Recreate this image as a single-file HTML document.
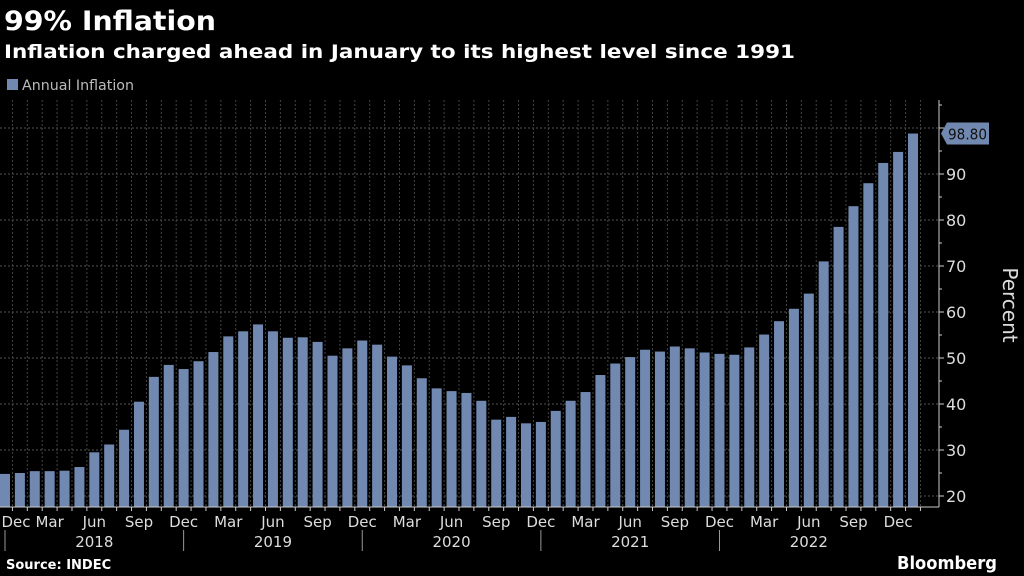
<!DOCTYPE html>
<html><head><meta charset="utf-8"><style>
html,body{margin:0;padding:0;background:#000;}
svg{display:block;font-family:"DejaVu Sans","Liberation Sans",sans-serif;}
</style></head><body>
<svg id="chart" width="1024" height="576" viewBox="0 0 1024 576">
<rect width="1024" height="576" fill="#000"/>
<text x="4" y="30" fill="#fff" font-weight="bold" font-size="27" textLength="212" lengthAdjust="spacingAndGlyphs">99% Inflation</text>
<text x="4" y="58" fill="#fff" font-weight="bold" font-size="19" textLength="791" lengthAdjust="spacingAndGlyphs">Inflation charged ahead in January to its highest level since 1991</text>
<rect x="7" y="79" width="11" height="11" fill="#7189b0"/>
<text x="22" y="90" fill="#bbb" font-size="14" textLength="112" lengthAdjust="spacingAndGlyphs">Annual Inflation</text>
<g id="grid"></g><g id="bars"></g><g id="axes"></g>
<text transform="translate(1003,305) rotate(90)" text-anchor="middle" fill="#ddd" font-size="20">Percent</text>
<text x="6" y="569" fill="#fff" font-weight="bold" font-size="13">Source: INDEC</text>
<text x="897" y="569" fill="#fff" font-weight="bold" font-size="18" textLength="100" lengthAdjust="spacingAndGlyphs">Bloomberg</text>
</svg>
<script>
const months=["Dec","Jan","Feb","Mar","Apr","May","Jun","Jul","Aug","Sep","Oct","Nov"];
const values=[24.8,25.0,25.4,25.4,25.5,26.3,29.5,31.2,34.4,40.5,45.9,48.5,47.6,49.3,51.3,54.7,55.8,57.3,55.8,54.4,54.5,53.5,50.5,52.1,53.8,52.9,50.3,48.4,45.6,43.4,42.8,42.4,40.7,36.6,37.2,35.8,36.1,38.5,40.7,42.6,46.3,48.8,50.2,51.8,51.4,52.5,52.1,51.2,50.9,50.7,52.3,55.1,58.0,60.7,64.0,71.0,78.5,83.0,88.0,92.4,94.8,98.8];
const yTicks=[20,30,40,50,60,70,80,90,100];
const years=["2018","2019","2020","2021","2022"];
const lastLabel="98.80";
const NS="http://www.w3.org/2000/svg";
const x0=5,step=(913-5)/61,bw=10,yBot=507,axisX=939;
const y=v=>496-(v-20)*4.6;
const x=i=>x0+i*step;
function mk(tag,attrs,parent){const e=document.createElementNS(NS,tag);for(const k in attrs)e.setAttribute(k,attrs[k]);parent.appendChild(e);return e;}
const grid=document.getElementById('grid'),bars=document.getElementById('bars'),axes=document.getElementById('axes');
yTicks.forEach(t=>{
 const l=mk('line',{x1:0,x2:axisX,y1:y(t),y2:y(t),stroke:'#555','stroke-dasharray':'2,2','stroke-width':1},grid);
 
 
 const tk=mk('line',{x1:axisX,x2:axisX+5,y1:y(t),y2:y(t),stroke:'#ccc'},axes);
 
 
 if(t<100){const tx=mk('text',{x:axisX+7,y:y(t)+6,fill:'#ddd','font-size':16},axes);tx.textContent=t;
 
 }
 const m=mk('line',{x1:axisX,x2:axisX+3,y1:y(t+5),y2:y(t+5),stroke:'#ccc'},axes);
 
 
});
values.forEach((v,i)=>{
 const g=mk('line',{x1:x(i)+step/2,x2:x(i)+step/2,y1:100,y2:yBot,stroke:'#444','stroke-dasharray':'2,2'},grid);
 
 
 const r=mk('rect',{x:x(i)-bw/2,y:y(v),width:bw,height:yBot-y(v),fill:'#7189b0'},bars);
 
 
 const tk=mk('line',{x1:x(i)+step/2,x2:x(i)+step/2,y1:yBot,y2:yBot+4,stroke:'#ccc'},axes);
 
 
 if(i%3===0){const tx=mk('text',{x:i===0?16:x(i),y:yBot+20,'text-anchor':'middle',fill:'#ddd','font-size':15},axes);tx.textContent=months[i%12];
 
 }
});
const ax=mk('line',{x1:0,x2:axisX,y1:yBot,y2:yBot,stroke:'#ccc'},axes);


const ay=mk('line',{x1:axisX,x2:axisX,y1:100,y2:yBot,stroke:'#ccc'},axes);


years.forEach((yr,k)=>{
 const s=12*k;
 const sep=mk('line',{x1:x(s),x2:x(s),y1:530,y2:551,stroke:'#999'},axes);
 
 
 const tx=mk('text',{x:(x(s)+x(Math.min(s+12,61)))/2,y:547,'text-anchor':'middle',fill:'#ddd','font-size':15},axes);
 tx.textContent=yr;
 
 
});
const ly=y(values[values.length-1]);
const tag=mk('path',{d:`M${axisX+2} ${ly} L${axisX+8} ${ly-11} H${axisX+50} V${ly+11} H${axisX+8} Z`,fill:'#7189b0'},axes);


const lt=mk('text',{x:axisX+9,y:ly+6,fill:'#111','font-size':15,textLength:39,lengthAdjust:'spacingAndGlyphs'},axes);
lt.textContent=lastLabel;


</script>
</body></html>
